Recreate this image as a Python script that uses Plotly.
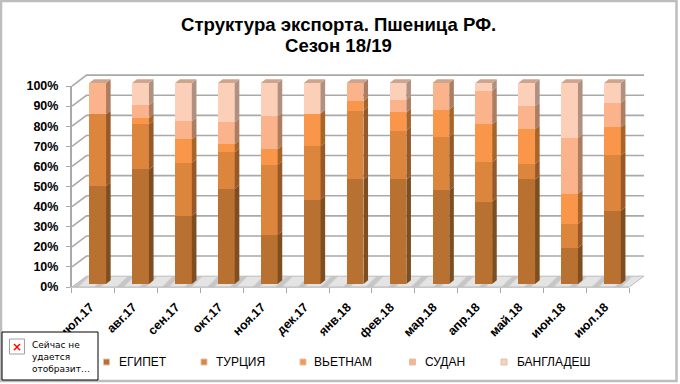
import plotly.graph_objects as go
import numpy as np

# Data (shares, %)
months = ["июл.17","авг.17","сен.17","окт.17","ноя.17","дек.17","янв.18","фев.18","мар.18","апр.18","май.18","июн.18","июл.18"]
egypt      = [48.7, 57.0, 34.0, 47.4, 24.5, 42.0, 52.0, 52.0, 46.7, 41.0, 52.0, 18.0, 36.4]
turkey     = [35.7, 22.5, 26.3, 18.2, 34.8, 26.5, 34.3, 24.3, 26.6, 19.6,  7.8, 12.0, 27.6]
vietnam    = [ 0.0,  3.1, 11.7,  3.9,  7.7, 16.3,  4.7,  9.1, 13.5, 18.9, 17.2, 15.0, 14.0]
sudan      = [15.6,  6.3,  9.0, 11.0, 16.4,  0.0,  9.0,  6.3, 13.2, 16.7, 11.4, 27.8, 12.2]
bangladesh = [ 0.0, 11.1, 19.0, 19.5, 16.6, 15.2,  0.0,  8.3,  0.0,  3.8, 11.6, 27.2,  9.8]
names = ["ЕГИПЕТ","ТУРЦИЯ","ВЬЕТНАМ","СУДАН","БАНГЛАДЕШ"]
series = [egypt, turkey, vietnam, sudan, bangladesh]
front_colors = ["#B97132","#DC853D","#F9964A","#FAB38B","#FCCFB8"]
side_colors  = ["#7F4E20","#98592A","#A86528","#AD7D62","#B09080"]
top_color = "#CDA48C"
grid_vals = list(range(0, 101, 10))

W, H = 680, 384
# scale of the drawing axes: category i centre and share value -> page position
X0, DX = 97.7, 42.9
Y0, DY = 284.0, 2.01
def cx(p): return (p - X0) / DX
def vy(p): return (Y0 - p) / DY
FONT = "Liberation Sans"

bar_w = 16.7 / DX
dep_x = 4.6 / DX
dep_y = 3.8 / DY
grid_col = "#A9A9A9"

fig = go.Figure()

# --- walls and floor (first subplot, under everything)
fl, fr, bl, br = cx(72), cx(629.3), cx(86.5), cx(644)
back = 3.9
front = -1.5
fig.add_trace(go.Scatter(x=[fl, bl, br, fr, fl], y=[front, back, back, front, front], mode="lines",
    fill="toself", line=dict(color="#BDBDBD", width=1), fillcolor="#DADADA",
    fillpattern=dict(shape="/", bgcolor="#E4E4E4", fgcolor="#A8A8A8", size=16, solidity=0.3),
    showlegend=False, hoverinfo="skip", xaxis="x", yaxis="y"))
gx, gy = [], []
for g in grid_vals[1:]:
    gx += [fl, bl, br, None]
    gy += [g + front, g + back, g + back, None]
fig.add_trace(go.Scatter(x=gx, y=gy, mode="lines", line=dict(color=grid_col, width=1.6),
    showlegend=False, hoverinfo="skip", xaxis="x", yaxis="y"))

# --- front faces
idx = np.arange(len(months))
for name, vals, col in zip(names, series, front_colors):
    fig.add_trace(go.Bar(x=idx, y=vals, width=bar_w, name=name, marker=dict(color=col, line=dict(width=0)),
        showlegend=False, xaxis="x2", yaxis="y2"))

# --- side faces
cum = np.zeros(len(months))
for vals, col in zip(series, side_colors):
    xs, ys = [], []
    for i, v in enumerate(vals):
        if v <= 0:
            continue
        a, b = cum[i], cum[i] + v
        r = i + bar_w / 2
        xs += [r, r + dep_x, r + dep_x, r, r, None]
        ys += [a, a + dep_y, b + dep_y, b, a, None]
    cum = cum + np.array(vals)
    fig.add_trace(go.Scatter(x=xs, y=ys, mode="lines", fill="toself", fillcolor=col, line=dict(width=0),
        showlegend=False, hoverinfo="skip", xaxis="x2", yaxis="y2"))

# --- top faces
xs, ys = [], []
for i, c in enumerate(cum):
    l, r = i - bar_w / 2, i + bar_w / 2
    xs += [l, l + dep_x, r + dep_x, r, l, None]
    ys += [c, c + dep_y, c + dep_y, c, c, None]
fig.add_trace(go.Scatter(x=xs, y=ys, mode="lines", fill="toself", fillcolor=top_color, line=dict(width=0),
    showlegend=False, hoverinfo="skip", xaxis="x2", yaxis="y2"))

# --- legend swatches
leg_swatch = [106.5, 204, 303, 412.5, 504]
leg_text = [117, 214, 312, 423, 515]
fig.add_trace(go.Scatter(x=[cx(p) for p in leg_swatch], y=[vy(362)] * 5, mode="markers",
    marker=dict(symbol="square", size=6, color=front_colors, line=dict(color="#D9C4B4", width=1)),
    showlegend=False, hoverinfo="skip", xaxis="x2", yaxis="y2"))

# --- axes labels (third subplot)
bold_months = [f"<b>{m}</b>" for m in months]
fig.add_trace(go.Scatter(x=bold_months, y=[0] * len(months), mode="none", showlegend=False, hoverinfo="skip",
    xaxis="x3", yaxis="y3"))

annotations = [dict(text=n, x=p / W, y=1 - 362 / H, xref="paper", yref="paper", xanchor="left", yanchor="middle",
                    showarrow=False, font=dict(family=FONT, size=12, color="#000000"))
               for n, p in zip(names, leg_text)]
annotations += [dict(text=t, x=30 / W, y=1 - p / H, xref="paper", yref="paper", xanchor="left", yanchor="middle",
                     showarrow=False, font=dict(family="DejaVu Sans", size=9, color="#000000"))
                for t, p in zip(["Сейчас не", "удается", "отобразит…"], [345, 357, 369])]
annotations.append(dict(text="<b>×</b>", x=17 / W, y=1 - 346.5 / H, xref="paper", yref="paper", xanchor="center",
                        yanchor="middle", showarrow=False, font=dict(family="DejaVu Sans", size=12, color="#FF0000")))
for t, p in zip(["Структура экспорта. Пшеница РФ.", "Сезон 18/19"], [25, 46]):
    annotations.append(dict(text=f"<b>{t}</b>", x=338.7 / W, y=1 - p / H, xref="paper", yref="paper", xanchor="center",
                            yanchor="middle", showarrow=False, font=dict(family=FONT, size=18.6, color="#000000")))

def prect(x0, y0, x1, y1, **kw):
    return dict(type="rect", xref="paper", yref="paper", x0=x0 / W, x1=x1 / W, y0=1 - y0 / H, y1=1 - y1 / H, layer="above", **kw)

shapes = [
    prect(1, 1, 676.5, 381, line=dict(color="#BDBDBD", width=2.5), fillcolor="rgba(0,0,0,0)"),
    prect(2, 332, 98, 380, line=dict(color="#000000", width=1), fillcolor="#FFFFFF"),
    prect(9.5, 339, 24.5, 354, line=dict(color="#A0A0A0", width=1), fillcolor="#FFFFFF"),
]

rng_x = [cx(0), cx(W)]
rng_y = [vy(H), vy(0)]
hidden = dict(visible=False, showgrid=False, zeroline=False, domain=[0, 1], automargin=False)
fig.update_layout(
    width=W, height=H, margin=dict(l=0, r=0, t=0, b=0, pad=0), autosize=False,
    paper_bgcolor="#FFFFFF", plot_bgcolor="rgba(0,0,0,0)", barmode="stack", showlegend=False, bargap=0,
    xaxis=dict(range=rng_x, anchor="y", **hidden),
    yaxis=dict(range=rng_y, anchor="x", **hidden),
    xaxis2=dict(range=rng_x, anchor="y2", **hidden),
    yaxis2=dict(range=rng_y, anchor="x2", **hidden),
    xaxis3=dict(type="category", categoryorder="array", categoryarray=bold_months, tickson="boundaries",
                range=[-0.5, len(months) - 0.5], nticks=len(months) + 1, dtick=1,
                domain=[71.7 / W, 629.3 / W], anchor="y3", ticks="outside", ticklen=5, tickcolor=grid_col,
                showgrid=False, zeroline=False, showline=True, linecolor="#C8C8C8", linewidth=1,
                tickangle=-45, automargin=False, ticklabelshift=-3, ticklabelstandoff=7,
                tickfont=dict(family=FONT, size=12.5, color="#000000")),
    yaxis3=dict(range=[0, 100], domain=[1 - 287 / H, 1 - 86 / H], anchor="x3", tickvals=grid_vals, automargin=False,
                ticktext=[f"<b>{g}%</b>" for g in grid_vals], ticks="outside", ticklen=4, tickcolor=grid_col,
                showgrid=False, zeroline=False, showline=True, linecolor=grid_col, linewidth=1.5, ticklabelstandoff=5,
                tickfont=dict(family=FONT, size=12.5, color="#000000")),
    annotations=annotations, shapes=shapes,
)
fig.write_html("out.html", config={"displayModeBar": False}, post_script="document.body.style.margin='0';")
